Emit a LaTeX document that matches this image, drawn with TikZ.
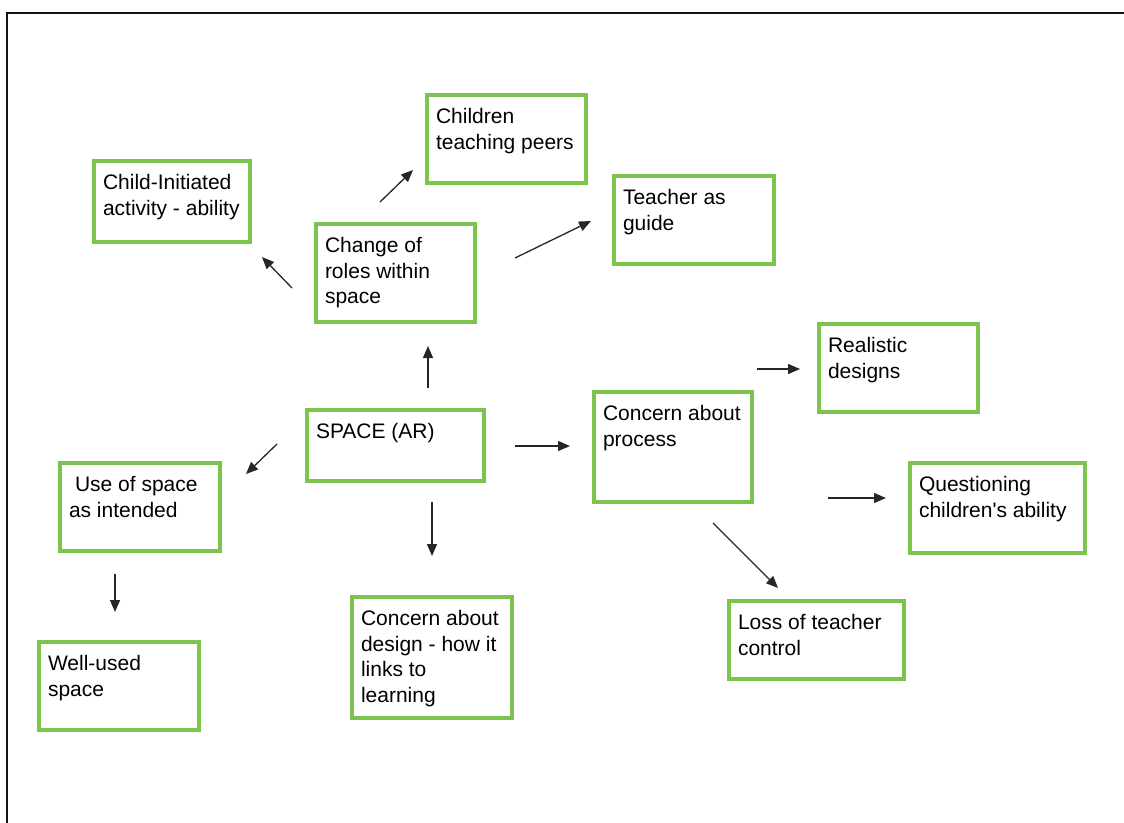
\documentclass[tikz,border=0pt]{standalone}
\usepackage{fontspec}
\setmainfont{Liberation Sans}[Ligatures=TeXOff]
\usetikzlibrary{arrows.meta}
\definecolor{boxgreen}{RGB}{124,196,78}
\definecolor{frameblack}{RGB}{20,20,20}
\tikzset{
  box/.style={draw=boxgreen, line width=4pt, inner sep=0pt, outer sep=0pt},
  txt/.style={anchor=north west, inner sep=0pt, outer sep=0pt, align=left,
    font=\fontsize{21}{25.5}\selectfont, text=black},
  arr/.style={line width=1.3pt, draw=black!85, -{Triangle[length=12pt,width=10pt]}},
}
\newcommand\Bx[6]{%
  \node[box, minimum width={#4-#2-4}, minimum height={#5-#3-4}] (#1) at ({(#2+#4)/2},{(#3+#5)/2}) {};
  \node[txt] (#1-t) at ({#2+11},{#3+15.5}) {#6};
}
\begin{document}
\begin{tikzpicture}[x=1pt,y=-1pt]
\useasboundingbox (0,0) rectangle (1124,822);
\draw[line width=2.5pt, frameblack] (7,823) -- (7,13) -- (1125,13);

\Bx{ci}{92}{159}{252}{244}{Child-Initiated\\activity - ability}
\Bx{ctp}{425}{93}{588}{185}{Children\\teaching peers}
\Bx{tg}{612}{174}{776}{266}{Teacher as\\guide}
\Bx{cr}{314}{222}{477}{324}{Change of\\roles within\\space}
\Bx{sp}{305}{408}{486}{483}{SPACE (AR)}
\Bx{cp}{592}{390}{754}{504}{Concern about\\process}
\Bx{rd}{817}{322}{980}{414}{Realistic\\designs}
\Bx{qa}{908}{461}{1087}{555}{Questioning\\children's ability}
\Bx{us}{58}{461}{222}{553}{\hspace{6pt}Use of space\\as intended}
\Bx{wu}{37}{640}{201}{732}{Well-used\\space}
\Bx{cd}{350}{595}{514}{720}{Concern about\\design - how it\\links to\\learning}
\Bx{lt}{727}{599}{906}{681}{Loss of teacher\\control}

% arrow end points
\coordinate (a1s) at (292,288); \coordinate (a1e) at (262,257);
\coordinate (a2s) at (380,202); \coordinate (a2e) at (413,170);
\coordinate (a3s) at (515,258); \coordinate (a3e) at (591,221);
\coordinate (a4s) at (428,388); \coordinate (a4e) at (428,346);
\coordinate (a5s) at (432,502); \coordinate (a5e) at (432,556);
\coordinate (a6s) at (277,444); \coordinate (a6e) at (246,474);
\coordinate (a7s) at (515,446); \coordinate (a7e) at (570,446);
\coordinate (a8s) at (757,369); \coordinate (a8e) at (800,369);
\coordinate (a9s) at (713,523); \coordinate (a9e) at (778,588);
\coordinate (a10s) at (828,498); \coordinate (a10e) at (886,498);
\coordinate (a11s) at (115,574); \coordinate (a11e) at (115,612);

\draw[arr] (a1s) -- (a1e);
\draw[arr] (a2s) -- (a2e);
\draw[arr] (a3s) -- (a3e);
\draw[arr] (a4s) -- (a4e);
\draw[arr] (a5s) -- (a5e);
\draw[arr] (a6s) -- (a6e);
\draw[arr] (a7s) -- (a7e);
\draw[arr] (a8s) -- (a8e);
\draw[arr] (a9s) -- (a9e);
\draw[arr] (a10s) -- (a10e);
\draw[arr] (a11s) -- (a11e);
\end{tikzpicture}
\end{document}
